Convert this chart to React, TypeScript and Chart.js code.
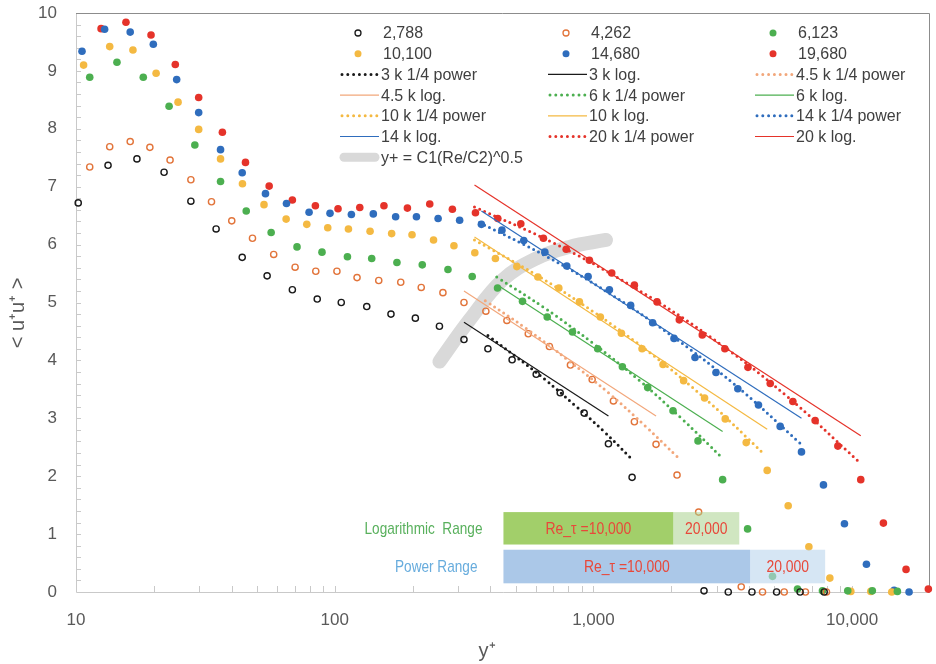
import React, { useEffect, useRef } from 'react';
import { Chart, registerables } from 'chart.js';
Chart.register(...registerables);

const FONT = '"Liberation Sans", Arial, sans-serif';

// ---- measured series: y+ and <u+u+> ----
const x2788 = [10.2, 13.3, 17.2, 21.9, 27.8, 34.8, 43.9, 54.8, 68.6, 85.6, 106, 133, 165, 205, 254, 316, 391, 485, 601, 744, 921, 1143, 1411, 2676, 3321, 4100, 5105, 6295, 7798];
const y2788 = [6.72, 7.37, 7.48, 7.25, 6.75, 6.27, 5.78, 5.46, 5.22, 5.06, 5.0, 4.93, 4.8, 4.73, 4.59, 4.36, 4.2, 4.01, 3.76, 3.44, 3.09, 2.56, 1.98, 0.02, 0, 0, 0, 0, 0];

const x4262 = [11.3, 13.5, 16.2, 19.3, 23.1, 27.8, 33.4, 40.0, 48.1, 58.1, 70.3, 84.5, 102, 122, 148, 180, 216, 262, 316, 384, 463, 560, 676, 815, 989, 1195, 1440, 1746, 2105, 2551, 3727, 4505, 5464, 6600, 7958];
const y4262 = [7.34, 7.69, 7.78, 7.68, 7.46, 7.12, 6.74, 6.41, 6.11, 5.83, 5.61, 5.54, 5.54, 5.43, 5.38, 5.35, 5.26, 5.17, 5.0, 4.85, 4.69, 4.46, 4.24, 3.92, 3.67, 3.3, 2.94, 2.55, 2.02, 1.38, 0.09, 0, 0, 0, 0];

const x6123 = [11.3, 14.4, 18.2, 22.9, 28.8, 36.2, 45.5, 56.8, 71.5, 89.3, 112, 139, 174, 218, 274, 340, 426, 532, 663, 830, 1039, 1294, 1621, 2031, 2537, 3158, 3944, 4924, 6151, 7680, 9617, 11970, 14960];
const y6123 = [8.89, 9.15, 8.89, 8.39, 7.72, 7.09, 6.58, 6.21, 5.96, 5.87, 5.79, 5.76, 5.69, 5.65, 5.57, 5.45, 5.25, 5.02, 4.75, 4.49, 4.2, 3.89, 3.53, 3.13, 2.61, 1.94, 1.09, 0.27, 0.05, 0.02, 0.02, 0.02, 0.01];

const x10100 = [10.7, 13.5, 16.6, 20.4, 24.8, 29.8, 36.2, 44.0, 53.3, 64.9, 78.0, 94.0, 113, 137, 166, 199, 241, 289, 348, 418, 506, 610, 735, 883, 1064, 1283, 1542, 1858, 2232, 2690, 3233, 3896, 4696, 5661, 6805, 8202, 9886, 11810, 14230];
const y10100 = [9.1, 9.42, 9.36, 8.96, 8.46, 7.99, 7.48, 7.05, 6.69, 6.44, 6.35, 6.29, 6.27, 6.23, 6.19, 6.17, 6.08, 5.98, 5.86, 5.76, 5.62, 5.44, 5.25, 5.01, 4.75, 4.47, 4.2, 3.93, 3.65, 3.35, 2.99, 2.58, 2.1, 1.49, 0.78, 0.24, 0.01, 0.01, 0];

const x14680 = [10.55, 12.9, 16.2, 19.9, 24.5, 29.8, 36.2, 43.9, 54.0, 65.1, 79.6, 95.9, 116, 141, 172, 207, 251, 304, 369, 443, 538, 649, 789, 954, 1153, 1393, 1694, 2049, 2470, 2977, 3616, 4346, 5272, 6372, 7749, 9340, 11360, 14530, 16600];
const y14680 = [9.34, 9.72, 9.67, 9.46, 8.85, 8.28, 7.64, 7.24, 6.88, 6.71, 6.56, 6.54, 6.52, 6.53, 6.48, 6.48, 6.45, 6.42, 6.35, 6.25, 6.07, 5.87, 5.63, 5.45, 5.22, 4.95, 4.65, 4.38, 4.05, 3.79, 3.51, 3.23, 2.86, 2.42, 1.85, 1.18, 0.48, 0.03, 0];

const x19680 = [12.5, 15.6, 19.5, 24.2, 29.8, 36.8, 45.2, 55.8, 68.6, 84.2, 103, 125, 155, 191, 233, 285, 350, 427, 524, 641, 785, 965, 1177, 1440, 1762, 2148, 2635, 3222, 3957, 4825, 5902, 7196, 8808, 10800, 13210, 16160, 19710];
const y19680 = [9.73, 9.84, 9.62, 9.11, 8.54, 7.94, 7.42, 7.01, 6.77, 6.67, 6.62, 6.64, 6.67, 6.63, 6.7, 6.61, 6.55, 6.45, 6.36, 6.11, 5.92, 5.73, 5.51, 5.3, 5.01, 4.7, 4.44, 4.2, 3.88, 3.6, 3.29, 2.96, 2.52, 1.94, 1.19, 0.39, 0.05];

// ---- 1/4 power fits ----
const xPow3 = [391, 500, 650, 850, 1100, 1398];
const yPow3 = [4.43, 4.07, 3.67, 3.22, 2.77, 2.31];
const xPow45 = [382, 550, 800, 1150, 1600, 2116];
const yPow45 = [5.03, 4.55, 4.0, 3.43, 2.85, 2.33];
const xPow6 = [423, 650, 1000, 1500, 2200, 3158];
const yPow6 = [5.44, 4.9, 4.29, 3.66, 2.99, 2.31];
const xPow10 = [347, 600, 1000, 1700, 2800, 4574];
const yPow10 = [6.08, 5.48, 4.84, 4.09, 3.28, 2.38];
const xPow14 = [363, 650, 1150, 2000, 3500, 6295];
const yPow14 = [6.38, 5.81, 5.16, 4.43, 3.59, 2.57];
const xPow20 = [347, 700, 1400, 2800, 5500, 10800];
const yPow20 = [6.65, 6.03, 5.29, 4.42, 3.41, 2.22];

// ---- log-law fits (straight lines on log axis) ----
const xLog3 = [316, 1143];
const yLog3 = [4.66, 3.04];
const xLog45 = [316, 1746];
const yLog45 = [5.2, 3.04];
const xLog6 = [427, 3158];
const yLog6 = [5.3, 2.77];
const xLog10 = [347, 4696];
const yLog10 = [6.13, 2.81];
const xLog14 = [369, 6372];
const yLog14 = [6.58, 3.0];
const xLog20 = [347, 10800];
const yLog20 = [7.03, 2.7];

// ---- y+ = C1(Re/C2)^0.5 curve ----
const xPeak = [254, 332, 446, 601, 808, 1119];
const yPeak = [3.98, 4.7, 5.39, 5.76, 5.96, 6.08];

// ---- range bars ----
const rangeLabels = ['Logarithmic  Range', 'Power Range'];
const rangeStart = [449, 449];
const range10k = [2037, 4039];
const range20k = [3662, 7866];
const rangeTop = [1.38, 0.73];
const rangeBottom = [0.82, 0.15];
const rangeText10k = ['Re_τ =10,000', 'Re_τ =10,000'];
const rangeText20k = ['20,000', '20,000'];

const xTickValues = [10, 100, 1000, 10000];
const yTickStep = 1;

const C = {
  black: '#1a1a1a',
  orange: '#e2743a',
  lorange: '#f2a77b',
  green: '#4caf50',
  yellow: '#f4b942',
  blue: '#2f6dbd',
  red: '#e5332a',
  gray: '#d9d9d9',
};

const pts = (xs: number[], ys: number[]) => xs.map((x, i) => ({ x, y: ys[i] }));

const pointSet = (label: string, xs: number[], ys: number[], color: string, open: boolean) => ({
  label,
  data: pts(xs, ys),
  showLine: false,
  pointRadius: open ? 3.1 : 3.8,
  pointBorderWidth: open ? 1.4 : 0,
  pointBorderColor: color,
  pointBackgroundColor: open ? 'rgba(0,0,0,0)' : color,
  order: 2,
  clip: false,
  legendKind: open ? 'open' : 'dot',
  legendColor: color,
});

const powSet = (label: string, xs: number[], ys: number[], color: string) => ({
  label,
  data: pts(xs, ys),
  showLine: true,
  borderColor: color,
  borderWidth: 3,
  borderDash: [0, 5.5],
  borderCapStyle: 'round',
  pointRadius: 0,
  tension: 0.4,
  order: 1,
  clip: false,
  legendKind: 'dotted',
  legendColor: color,
});

const logSet = (label: string, xs: number[], ys: number[], color: string) => ({
  label,
  data: pts(xs, ys),
  showLine: true,
  borderColor: color,
  borderWidth: 1.2,
  pointRadius: 0,
  order: 1,
  clip: false,
  legendKind: 'line',
  legendColor: color,
});

const datasets: any[] = [
  pointSet('2,788', x2788, y2788, C.black, true),
  pointSet('4,262', x4262, y4262, C.orange, true),
  pointSet('6,123', x6123, y6123, C.green, false),
  pointSet('10,100', x10100, y10100, C.yellow, false),
  pointSet('14,680', x14680, y14680, C.blue, false),
  pointSet('19,680', x19680, y19680, C.red, false),
  powSet('3 k 1/4 power', xPow3, yPow3, C.black),
  logSet('3 k log.', xLog3, yLog3, C.black),
  powSet('4.5 k 1/4 power', xPow45, yPow45, C.lorange),
  logSet('4.5 k log.', xLog45, yLog45, C.lorange),
  powSet('6 k 1/4 power', xPow6, yPow6, C.green),
  logSet('6 k log.', xLog6, yLog6, C.green),
  powSet('10 k 1/4 power', xPow10, yPow10, C.yellow),
  logSet('10 k log.', xLog10, yLog10, C.yellow),
  powSet('14 k 1/4 power', xPow14, yPow14, C.blue),
  logSet('14 k log.', xLog14, yLog14, C.blue),
  powSet('20 k 1/4 power', xPow20, yPow20, C.red),
  logSet('20 k log.', xLog20, yLog20, C.red),
  {
    label: 'y+ = C1(Re/C2)^0.5',
    data: pts(xPeak, yPeak),
    showLine: true,
    borderColor: C.gray,
    borderWidth: 14,
    borderCapStyle: 'round',
    borderJoinStyle: 'round',
    pointRadius: 0,
    tension: 0.4,
    order: 3,
    clip: false,
    legendKind: 'thick',
    legendColor: C.gray,
  },
];

const condensedText = (ctx: any, text: string, x: number, y: number, align: string, sx: number) => {
  ctx.save();
  ctx.translate(x, y);
  ctx.scale(sx, 1);
  ctx.textAlign = align;
  ctx.fillText(text, 0, 0);
  ctx.restore();
};

const overlay = {
  id: 'overlay',
  beforeDatasetsDraw(chart: any) {
    const { ctx, chartArea: ca, scales } = chart;
    const xs = scales.x;
    const ys = scales.y;
    ctx.save();
    ctx.lineWidth = 1;
    ctx.strokeStyle = '#c9c9c9';
    ctx.beginPath();
    ctx.moveTo(Math.round(ca.left) + 0.5, ca.top);
    ctx.lineTo(Math.round(ca.left) + 0.5, Math.round(ca.bottom) + 0.5);
    ctx.lineTo(ca.right, Math.round(ca.bottom) + 0.5);
    ctx.stroke();
    ctx.beginPath();
    for (let i = 1; i <= 50; i++) {
      const py = Math.round(ys.getPixelForValue(i * 0.2)) + 0.5;
      ctx.moveTo(ca.left, py);
      ctx.lineTo(ca.left + 5, py);
    }
    for (const d of [10, 100, 1000, 10000]) {
      for (let k = 1; k <= 9; k++) {
        const v = d * k;
        if (v <= 10 || v > 20000) continue;
        const px = Math.round(xs.getPixelForValue(v)) + 0.5;
        ctx.moveTo(px, ca.bottom);
        ctx.lineTo(px, ca.bottom - 6);
      }
    }
    ctx.stroke();
    ctx.strokeStyle = '#8c8c8c';
    ctx.beginPath();
    ctx.moveTo(ca.left, Math.round(ca.top) + 0.5);
    ctx.lineTo(Math.round(ca.right) - 0.5, Math.round(ca.top) + 0.5);
    ctx.lineTo(Math.round(ca.right) - 0.5, Math.round(ca.bottom) + 0.5);
    ctx.stroke();
    // y axis title
    ctx.save();
    ctx.translate(18, 313);
    ctx.rotate(-Math.PI / 2);
    ctx.fillStyle = '#595959';
    ctx.font = `20px ${FONT}`;
    ctx.textAlign = 'center';
    ctx.textBaseline = 'middle';
    ctx.fillText('< u⁺u⁺ >', 0, 0);
    ctx.restore();
    ctx.restore();
  },
  afterDatasetsDraw(chart: any) {
    const { ctx, scales } = chart;
    const xs = scales.x;
    const ys = scales.y;
    ctx.save();
    const dark = ['#a2cf6a', '#abc8e8'];
    const light = ['rgba(169,209,142,0.55)', 'rgba(189,215,238,0.62)'];
    const labelColor = ['#58b05c', '#67acdd'];
    ctx.font = `17px ${FONT}`;
    ctx.textBaseline = 'middle';
    for (let i = 0; i < rangeLabels.length; i++) {
      const x0 = xs.getPixelForValue(rangeStart[i]);
      const x1 = xs.getPixelForValue(range10k[i]);
      const x2 = xs.getPixelForValue(range20k[i]);
      const y0 = ys.getPixelForValue(rangeTop[i]);
      const y1 = ys.getPixelForValue(rangeBottom[i]);
      ctx.fillStyle = dark[i];
      ctx.fillRect(x0, y0, x1 - x0, y1 - y0);
      ctx.fillStyle = light[i];
      ctx.fillRect(x1, y0, x2 - x1, y1 - y0);
      const ym = (y0 + y1) / 2 + 1;
      ctx.fillStyle = '#e8483a';
      condensedText(ctx, rangeText10k[i], (x0 + x1) / 2, ym, 'center', 0.82);
      condensedText(ctx, rangeText20k[i], (x1 + x2) / 2, ym, 'center', 0.82);
      ctx.fillStyle = labelColor[i];
      condensedText(ctx, rangeLabels[i], x0 - (i === 0 ? 21 : 26), ym, 'right', 0.8);
    }
    const colText = [382, 590, 797];
    const rowY0 = 33;
    const rowH = 20.7;
    ctx.font = `16px ${FONT}`;
    ctx.textAlign = 'left';
    ctx.textBaseline = 'middle';
    chart.data.datasets.forEach((ds: any, i: number) => {
      const col = i % 3;
      const row = Math.floor(i / 3);
      const tx = colText[col];
      const ty = rowY0 + row * rowH;
      const c = ds.legendColor;
      ctx.save();
      if (ds.legendKind === 'open') {
        ctx.strokeStyle = c;
        ctx.lineWidth = 1.3;
        ctx.beginPath();
        ctx.arc(tx - 24, ty, 3, 0, Math.PI * 2);
        ctx.stroke();
      } else if (ds.legendKind === 'dot') {
        ctx.fillStyle = c;
        ctx.beginPath();
        ctx.arc(tx - 24, ty, 3.5, 0, Math.PI * 2);
        ctx.fill();
      } else if (ds.legendKind === 'dotted') {
        ctx.strokeStyle = c;
        ctx.lineWidth = 3;
        ctx.lineCap = 'round';
        ctx.setLineDash([0, 5.8]);
        ctx.beginPath();
        ctx.moveTo(tx - 40, ty);
        ctx.lineTo(tx - 4, ty);
        ctx.stroke();
      } else if (ds.legendKind === 'line') {
        ctx.strokeStyle = c;
        ctx.lineWidth = 1.2;
        ctx.beginPath();
        ctx.moveTo(tx - 42, ty);
        ctx.lineTo(tx - 3, ty);
        ctx.stroke();
      } else if (ds.legendKind === 'thick') {
        ctx.strokeStyle = c;
        ctx.lineWidth = 9;
        ctx.lineCap = 'round';
        ctx.beginPath();
        ctx.moveTo(tx - 38, ty);
        ctx.lineTo(tx - 7, ty);
        ctx.stroke();
      }
      ctx.restore();
      ctx.fillStyle = '#404040';
      ctx.fillText(ds.label, ds.legendKind === 'open' || ds.legendKind === 'dot' ? tx + 1 : tx - 1, ty + 1);
    });
    ctx.fillStyle = '#595959';
    ctx.textAlign = 'center';
    ctx.font = `20px ${FONT}`;
    ctx.fillText('y⁺', 487, 651);
    ctx.restore();
  },
};

export default function App() {
  const ref = useRef<HTMLCanvasElement>(null);
  useEffect(() => {
    const canvas = ref.current;
    if (!canvas) return;
    const chart = new Chart(canvas, {
      type: 'scatter',
      data: { datasets },
      options: {
        animation: false,
        responsive: true,
        maintainAspectRatio: false,
        layout: { padding: { top: 13, right: 6, left: 0, bottom: 0 } },
        plugins: { legend: { display: false }, tooltip: { enabled: false } },
        scales: {
          x: {
            type: 'logarithmic',
            min: 10,
            max: 20000,
            afterFit: (s: any) => {
              s.height = 72;
              s.paddingLeft = 0;
              s.paddingRight = 0;
            },
            afterBuildTicks: (s: any) => {
              s.ticks = xTickValues.map((v) => ({ value: v }));
            },
            ticks: {
              autoSkip: false,
              maxRotation: 0,
              padding: 18,
              color: '#595959',
              font: { family: FONT, size: 17 },
              callback: (v: any) => Number(v).toLocaleString('en-US'),
            },
            grid: { display: false, drawTicks: false },
            border: { display: false },
          },
          y: {
            min: 0,
            max: 10,
            afterFit: (s: any) => {
              s.width = 76;
              s.paddingTop = 0;
              s.paddingBottom = 0;
            },
            ticks: {
              stepSize: yTickStep,
              padding: 19,
              color: '#595959',
              font: { family: FONT, size: 17 },
            },
            grid: { display: false, drawTicks: false },
            border: { display: false },
          },
        },
      } as any,
      plugins: [overlay],
    });
    return () => chart.destroy();
  }, []);
  return (
    <div style={{ position: 'fixed', left: 0, top: 0, width: 936, height: 664, background: '#fff' }}>
      <canvas ref={ref} />
    </div>
  );
}
